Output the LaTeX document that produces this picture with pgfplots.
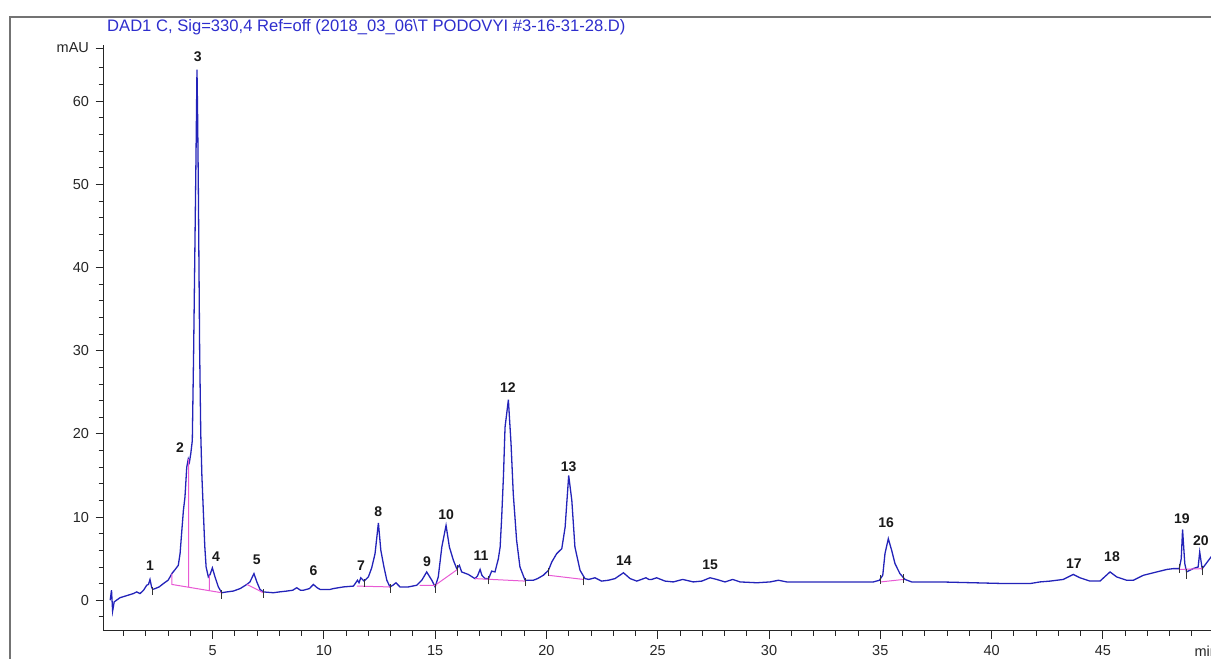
\documentclass[border=0pt]{standalone}
\usepackage{pgfplots}
\pgfplotsset{compat=1.18}
\usepackage{fontspec}
\setmainfont{Liberation Sans}
\definecolor{curve}{RGB}{35,35,185}
\definecolor{ttl}{RGB}{45,45,205}
\definecolor{integ}{RGB}{232,90,212}
\begin{document}
\begin{tikzpicture}
\begin{axis}[
  at={(103.5pt,28pt)}, anchor=south west,
  scale only axis, width=1121.8pt, height=585.5pt,
  xmin=0.1, xmax=50.5, ymin=-3.7, ymax=66.7,
  axis x line*=bottom, axis y line*=left,
  axis line style={-, black!85, line width=1pt},
  tick align=outside,
  major tick length=8pt, minor tick length=5pt,
  every tick/.style={black!85, line width=0.9pt},
  xtick={5,10,...,45},
  xticklabels={5,10,15,20,25,30,35,40,45},
  extra x ticks={50},
  extra x tick labels={min},
  extra x tick style={xticklabel style={xshift=-8pt}},
  minor xtick={1,2,...,50},
  ytick={0,10,20,30,40,50,60,66.4},
  yticklabels={0,10,20,30,40,50,60,mAU},
  minor ytick={-2,2,4,6,8,12,14,16,18,22,24,26,28,32,34,36,38,42,44,46,48,52,54,56,58,62,64},
  ticklabel style={font=\fontsize{14.5}{14.5}\selectfont, text=black!85},
  xticklabel style={yshift=-3pt},
  yticklabel style={xshift=-3pt},
  unbounded coords=jump,
]
% chromatogram trace
\addplot[curve, line width=1.3pt] coordinates {
(0.40,0.0) (0.46,1.2) (0.51,-1.3) (0.58,-0.2) (0.84,0.3) (1.20,0.6) (1.44,0.8) (1.59,1.0)
(1.74,0.8) (1.90,1.2) (2.04,1.8) (2.12,1.9) (2.19,2.5) (2.26,1.6) (2.31,1.3) (2.42,1.4)
(2.60,1.6) (2.79,2.0) (3.00,2.4) (3.09,2.8) (3.17,3.2) (3.32,3.7) (3.46,4.2) (3.54,5.6)
(3.62,8.4) (3.69,10.8) (3.76,12.4) (3.84,16.0) (3.91,17.0) (3.96,16.6) (4.02,17.6) (4.09,19.2)
(4.15,30.0) (4.20,41.0) (4.25,52.0) (4.30,63.8) (4.33,58.0) (4.36,50.0) (4.42,30.0) (4.47,20.0)
(4.52,15.0) (4.59,10.4) (4.65,6.5) (4.71,4.0) (4.81,2.8) (4.89,3.1) (4.99,3.9) (5.11,2.8)
(5.26,1.6) (5.41,0.9) (5.64,1.0) (5.93,1.1) (6.24,1.4) (6.54,1.9) (6.68,2.2) (6.86,3.2)
(6.99,2.2) (7.13,1.3) (7.28,1.0) (7.73,0.9) (8.00,1.0) (8.33,1.1) (8.60,1.2) (8.78,1.5)
(8.95,1.2) (9.08,1.2) (9.35,1.4) (9.53,1.9) (9.70,1.5) (9.83,1.3) (10.28,1.3) (10.43,1.4)
(10.88,1.6) (11.33,1.7) (11.51,2.4) (11.58,2.1) (11.66,2.7) (11.81,2.3) (12.00,2.8) (12.15,3.9)
(12.30,5.6) (12.45,9.3) (12.56,6.0) (12.70,4.0) (12.83,2.4) (12.97,1.6) (13.10,1.8) (13.24,2.1)
(13.42,1.6) (13.80,1.6) (14.17,1.8) (14.40,2.4) (14.62,3.4) (14.85,2.4) (15.00,1.6) (15.14,2.8)
(15.30,6.4) (15.49,9.0) (15.64,6.4) (15.82,4.8) (15.97,3.8) (16.09,4.2) (16.19,3.4) (16.49,3.1)
(16.79,2.6) (16.90,2.9) (17.02,3.7) (17.10,3.0) (17.24,2.6) (17.40,2.6) (17.54,3.5) (17.69,3.4)
(17.84,5.0) (17.92,6.4) (17.99,10.0) (18.07,15.0) (18.14,20.8) (18.29,24.1) (18.41,18.8) (18.51,12.8)
(18.66,7.2) (18.81,4.0) (19.04,2.4) (19.41,2.4) (19.60,2.6) (19.86,3.0) (20.09,3.6) (20.24,4.6)
(20.46,5.6) (20.69,6.2) (20.84,8.8) (21.00,15.0) (21.14,12.0) (21.28,6.4) (21.51,3.6) (21.73,2.6)
(21.90,2.5) (22.18,2.7) (22.48,2.3) (22.78,2.4) (23.08,2.6) (23.46,3.3) (23.76,2.6) (24.06,2.3)
(24.47,2.7) (24.60,2.5) (24.73,2.5) (24.95,2.7) (25.33,2.3) (25.70,2.2) (26.12,2.5) (26.60,2.2)
(26.98,2.3) (27.35,2.7) (27.65,2.5) (28.02,2.2) (28.37,2.5) (28.70,2.2) (29.45,2.1) (30.05,2.2)
(30.42,2.4) (30.80,2.2) (31.39,2.2) (32.44,2.2) (33.94,2.2) (34.69,2.2) (34.96,2.4) (35.11,3.0)
(35.21,5.6) (35.36,7.4) (35.51,6.0) (35.66,4.4) (35.88,3.2) (36.11,2.5) (36.41,2.2) (37.68,2.2)
(39.18,2.1) (40.68,2.0) (41.72,2.0) (42.17,2.2) (42.63,2.3) (43.22,2.5) (43.67,3.1) (43.97,2.7)
(44.42,2.3) (44.87,2.3) (45.32,3.4) (45.62,2.8) (46.07,2.4) (46.37,2.4) (46.82,3.0) (47.42,3.4)
(47.87,3.7) (48.17,3.8) (48.43,3.8) (48.52,5.0) (48.58,8.5) (48.64,6.0) (48.68,4.4) (48.76,3.4)
(49.05,3.8) (49.28,4.0) (49.35,5.8) (49.42,4.5) (49.46,3.8) (49.58,4.2) (49.86,5.2) (50.10,5.8)
};
% integration baselines and drop lines
\addplot[integ, line width=1.0pt] coordinates {
(3.17,3.2) (3.17,1.9) (5.41,0.9) (5.41,nan)
(3.93,17.0) (3.93,1.6) (3.93,nan)
(4.86,3.0) (4.86,1.15) (4.86,nan)
(6.54,1.9) (7.28,0.9) (7.28,nan)
(11.48,1.7) (12.97,1.6) (12.97,nan)
(14.30,1.8) (15.00,1.8) (16.00,3.7) (16.00,nan)
(16.79,2.6) (19.04,2.3) (19.04,nan)
(20.09,3.0) (21.66,2.5) (21.66,nan)
(35.02,2.2) (36.04,2.5) (36.04,nan)
(48.40,3.7) (49.50,3.8)
};
% integration event marks
\addplot[black!80, line width=0.8pt] coordinates {
(2.31,0.6) (2.31,1.6) (2.31,nan)
(5.41,0.2) (5.41,1.2) (5.41,nan)
(7.28,0.3) (7.28,1.3) (7.28,nan)
(11.81,1.6) (11.81,2.6) (11.81,nan)
(12.97,0.9) (12.97,1.9) (12.97,nan)
(15.00,0.9) (15.00,1.9) (15.00,nan)
(16.00,3.0) (16.00,4.2) (16.00,nan)
(17.40,1.9) (17.40,2.9) (17.40,nan)
(19.04,1.7) (19.04,2.7) (19.04,nan)
(20.09,2.9) (20.09,3.9) (20.09,nan)
(21.66,1.8) (21.66,2.8) (21.66,nan)
(35.02,2.0) (35.02,3.0) (35.02,nan)
(36.04,2.1) (36.04,3.1) (36.04,nan)
(48.43,3.3) (48.43,4.3) (48.43,nan)
(48.76,2.6) (48.76,3.8) (48.76,nan)
(49.46,3.0) (49.46,4.1)
};
% peak numbers
\begin{scope}[every node/.style={font=\bfseries\fontsize{14}{14}\selectfont, text=black!90, inner sep=0pt}]
\node at (axis cs:2.19,4.1) {1};
\node at (axis cs:3.54,18.4) {2};
\node at (axis cs:4.34,65.3) {3};
\node at (axis cs:5.16,5.2) {4};
\node at (axis cs:6.99,4.9) {5};
\node at (axis cs:9.53,3.5) {6};
\node at (axis cs:11.67,4.2) {7};
\node at (axis cs:12.44,10.6) {8};
\node at (axis cs:14.63,4.6) {9};
\node at (axis cs:15.49,10.3) {10};
\node at (axis cs:17.06,5.3) {11};
\node at (axis cs:18.27,25.6) {12};
\node at (axis cs:21.00,16.1) {13};
\node at (axis cs:23.48,4.7) {14};
\node at (axis cs:27.35,4.3) {15};
\node at (axis cs:35.26,9.3) {16};
\node at (axis cs:43.70,4.4) {17};
\node at (axis cs:45.41,5.2) {18};
\node at (axis cs:48.55,9.8) {19};
\node at (axis cs:49.40,7.1) {20};
\end{scope}
\end{axis}
\draw[black!55, line width=1.6pt] (10pt,-5pt) -- (10pt,642pt) -- (1230pt,642pt);
\node[ttl, inner sep=0pt, anchor=west, font=\fontsize{16.6}{16.6}\selectfont] at (107pt,632pt)
  {DAD1 C, Sig=330,4 Ref=off (2018\_03\_06\textbackslash T PODOVYI \#3-16-31-28.D)};
\pgfresetboundingbox
\path (0pt,0pt) rectangle (1211pt,659pt);
\end{tikzpicture}
\end{document}
